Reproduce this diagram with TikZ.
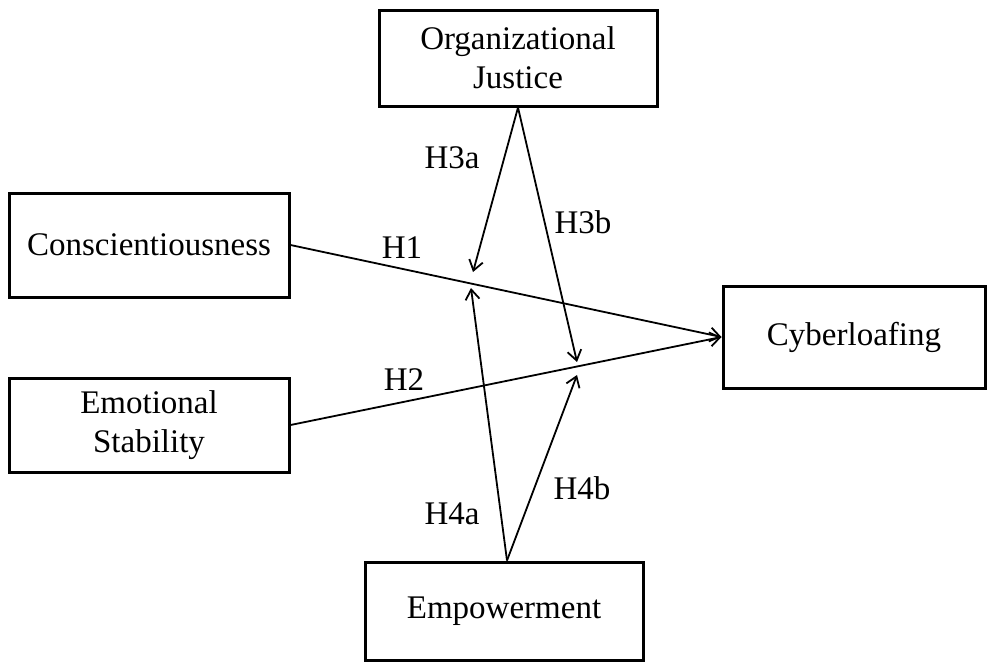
\documentclass[tikz,border=0pt]{standalone}
\usepackage{fontspec}
\setmainfont{Liberation Serif}
\usetikzlibrary{positioning,arrows.meta}

\begin{document}
\begin{tikzpicture}[x=0.5pt,y=-0.5pt,
        var/.style={draw,line width=1.5pt,align=center,inner sep=0pt,font=\fontsize{16.5}{19.5}\selectfont},
        hyp/.style={-{Straight Barb[length=5pt,width=7pt]},line width=0.9pt},
        lbl/.style={font=\fontsize{16.5}{19.5}\selectfont}]

    \useasboundingbox (0,0) rectangle (988,664); % Frame

    % Variables
    \node[var,minimum width=139pt,minimum height=48pt] (oj) at (518,58) {Organizational\\Justice};
    \node[var,minimum width=140pt,minimum height=52pt] (con) at (149,245) {Conscientiousness};
    \node[var,minimum width=140pt,minimum height=47pt] (emo) at (149,425) {Emotional\\Stability};
    \node[var,minimum width=131pt,minimum height=51pt] (cyb) at (854,337) {Cyberloafing};
    \node[var,minimum width=139pt,minimum height=49pt] (emp) at (504,611) {Empowerment};

    % Direct effects
    \draw[hyp] (con.east) -- (cyb.west);
    \draw[hyp] (emo.east) -- (cyb.west);

    % Moderating effects, pointing at the paths
    \coordinate (t3a) at (473,272);
    \coordinate (t3b) at (577,362);
    \coordinate (t4a) at (471,288);
    \coordinate (t4b) at (577,375);
    \draw[hyp] (oj.south) -- (t3a);
    \draw[hyp] (oj.south) -- (t3b);
    \draw[hyp] ([xshift=1.5pt]emp.north) -- (t4a);
    \draw[hyp] ([xshift=1.5pt]emp.north) -- (t4b);

    % Hypothesis labels
    \foreach \h/\xh/\yh in {H1/402/248, H2/404/380, H3a/452/158, H3b/583/222, H4a/452/514, H4b/582/488}
        {
        \node[lbl] (l\h) at (\xh,\yh) {\h};
        }

\end{tikzpicture}
\end{document}
